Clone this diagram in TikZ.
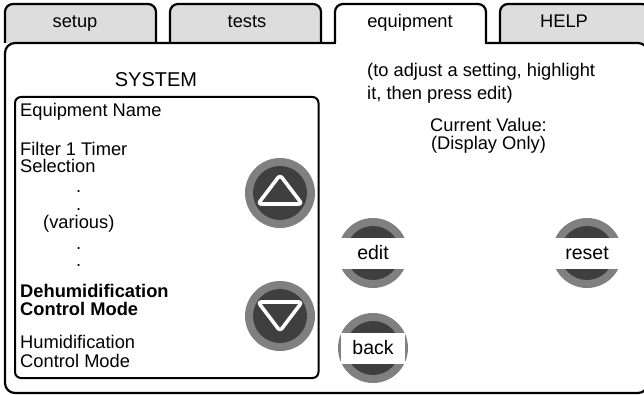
\documentclass[tikz,border=0pt]{standalone}
\usepackage{fontspec}
\setmainfont{Liberation Sans}
\definecolor{tabgray}{HTML}{DDDDDD}
\definecolor{ringgray}{HTML}{808080}
\definecolor{darkbtn}{HTML}{3F3F3F}
\tikzset{
  frame/.style={draw=black, line width=2.2pt},
  tabshape/.style={frame, fill=tabgray, rounded corners=8pt},
  txt/.style={inner sep=0pt, font=\fontsize{18.3}{20}\selectfont},
  lbl/.style={txt, anchor=base west},
  bold lbl/.style={lbl, font=\fontsize{18.3}{20}\selectfont\bfseries},
  ctr/.style={txt, anchor=base},
  ring/.style={circle, fill=ringgray, minimum size=70pt, inner sep=0pt},
  core/.style={circle, fill=darkbtn, minimum size=54pt, inner sep=0pt},
  arrowtri/.style={draw=white, line width=3.6pt, rounded corners=3pt, line join=round},
  band/.style={fill=white, inner sep=0pt, minimum height=31pt, font=\fontsize{19.5}{20}\selectfont}
}
\begin{document}
\begin{tikzpicture}[x=1pt,y=-1pt]
\path[use as bounding box] (0,0) rectangle (644,395);
\clip (0,0) rectangle (644,395);
% inactive tabs
\path[tabshape] (5,43) -- (5,4) -- (156,4) -- (156,43);
\path[tabshape] (170,43) -- (170,4) -- (321,4) -- (321,43);
\path[tabshape] (500,43) -- (500,4) -- (650,4) -- (650,43);
% panel
\draw[frame, fill=white, rounded corners=10pt] (5,43) rectangle (648,393);
% active tab
\fill[white] (336.2,6) rectangle (484.8,46);
\draw[frame, rounded corners=8pt] (335,43) -- (335,4) -- (486,4) -- (486,43);
% tab labels
\node[ctr] (tsetup) at (75,27.5) {setup};
\node[ctr] (ttests) at (247,27.5) {tests};
\node[ctr] (tequip) at (410,27.5) {equipment};
\node[ctr] (thelp) at (564,27.5) {HELP};
% system title and list box
\node[ctr, font=\fontsize{20}{22}\selectfont] (systitle) at (156,87) {SYSTEM};
\draw[frame, line width=2pt, rounded corners=6pt] (15,97) rectangle (318.5,378);
\node[lbl] (l1) at (20,117) {Equipment Name};
\node[lbl] (l2a) at (20,156) {Filter 1 Timer};
\node[lbl] (l2b) at (20,172.5) {Selection};
\node[lbl] (d1) at (76,193) {.};
\node[lbl] (d2) at (76,211) {.};
\node[lbl] (l3) at (43,228) {(various)};
\node[lbl] (d3) at (76,249) {.};
\node[lbl] (d4) at (76,266) {.};
\node[bold lbl] (l4a) at (20,297) {Dehumidification};
\node[bold lbl] (l4b) at (20,315) {Control Mode};
\node[lbl] (l5a) at (20,348) {Humidification};
\node[lbl] (l5b) at (20,367) {Control Mode};
% right side texts
\node[lbl] (h1) at (367,77) {(to adjust a setting, highlight};
\node[lbl] (h2) at (367,100) {it, then press edit)};
\node[ctr] (cv1) at (488.5,132) {Current Value:};
\node[ctr] (cv2) at (488.5,150) {(Display Only)};
% up / down buttons
\node[ring] (upbtn) at (280,193) {};
\node[core] (upcore) at (upbtn) {};
\draw[arrowtri] (280,175) -- (302,204) -- (258,204) -- cycle;
\node[ring] (dnbtn) at (280,316) {};
\node[core] (dncore) at (dnbtn) {};
\draw[arrowtri] (258,302) -- (302,302) -- (280,331) -- cycle;
% edit / reset / back buttons
\node[ring] (editbtn) at (373,253) {};
\node[core] (editcore) at (editbtn) {};
\node[band, minimum width=72pt] (editlbl) at (editbtn) {edit};
\node[ring] (resetbtn) at (587,253) {};
\node[core] (resetcore) at (resetbtn) {};
\node[band, minimum width=72pt] (resetlbl) at (resetbtn) {reset};
\node[ring] (backbtn) at (373,348) {};
\node[core] (backcore) at (backbtn) {};
\node[band, minimum width=64pt] (backlbl) at (backbtn) {back};
\end{tikzpicture}
\end{document}
